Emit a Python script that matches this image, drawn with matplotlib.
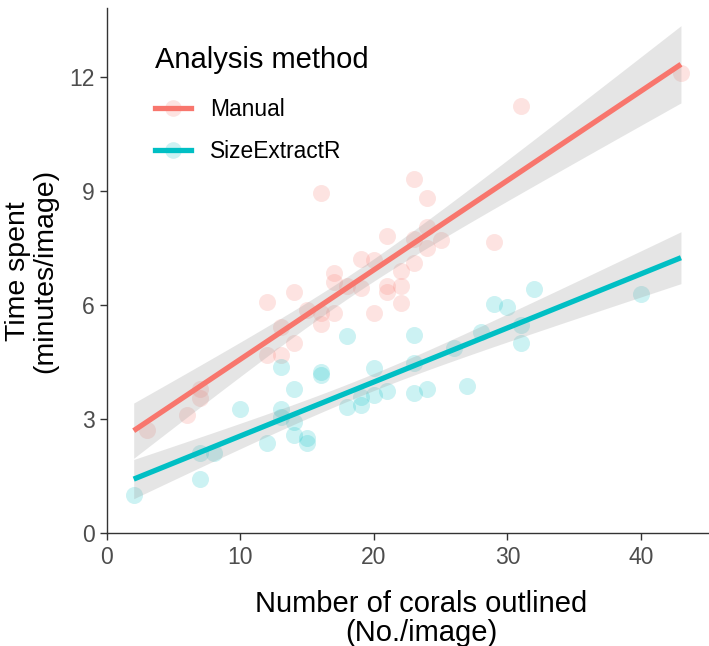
import numpy as np
import matplotlib
matplotlib.use("Agg")
import matplotlib.pyplot as plt
from matplotlib.lines import Line2D

plt.rcParams["font.family"] = ["Liberation Sans", "DejaVu Sans"]

# ---------------------------------------------------------------------------
# Data
# ---------------------------------------------------------------------------
manual_x = [3, 6, 7, 7, 12, 12, 13, 13, 14, 14, 15, 16, 16, 16, 17, 17, 17,
            18, 19, 19, 20, 20, 21, 21, 21, 22, 22, 22, 23, 23, 23, 24, 24,
            24, 25, 29, 31, 43]
manual_y = [2.7, 3.1, 3.8, 3.55, 6.08, 4.68, 5.42, 4.68, 6.34, 5.0, 5.87,
            8.95, 5.8, 5.5, 6.83, 6.6, 5.78, 6.5, 7.2, 6.45, 7.18, 5.8, 7.8,
            6.5, 6.35, 6.9, 6.5, 6.05, 9.3, 7.74, 7.1, 8.8, 8.05, 7.5, 7.7,
            7.65, 11.23, 12.1]

sizex_x = [2, 7, 7, 8, 10, 12, 13, 13, 13, 14, 14, 14, 15, 15, 16, 16, 18,
           18, 19, 19, 20, 20, 21, 23, 23, 23, 24, 26, 27, 28, 29, 30, 31,
           31, 32, 40]
sizex_y = [1.0, 1.42, 2.1, 2.1, 3.26, 2.37, 4.37, 3.26, 3.05, 3.78, 2.92,
           2.58, 2.5, 2.37, 4.24, 4.15, 5.18, 3.32, 3.37, 3.58, 4.33, 3.63,
           3.74, 5.2, 4.47, 3.68, 3.79, 4.87, 3.87, 5.3, 6.03, 5.95, 5.47,
           5.0, 6.42, 6.29]

fit_range = (2, 43)
groups = ["Manual", "SizeExtractR"]
colors = {"Manual": "#F8766D", "SizeExtractR": "#00BFC4"}
T_95 = 2.03


def lm_band(x, y, xs):
    """OLS fit with 95% confidence band (like geom_smooth(method='lm'))."""
    x = np.asarray(x, float)
    y = np.asarray(y, float)
    n = len(x)
    b1, b0 = np.polyfit(x, y, 1)
    resid = y - (b0 + b1 * x)
    s = np.sqrt(np.sum(resid ** 2) / (n - 2))
    sxx = np.sum((x - x.mean()) ** 2)
    fit = b0 + b1 * xs
    se = s * np.sqrt(1 / n + (xs - x.mean()) ** 2 / sxx)
    return fit, fit - T_95 * se, fit + T_95 * se


fig = plt.figure(figsize=(7.09, 6.46), dpi=100)
ax = fig.add_axes([107 / 709, 1 - 533 / 646, 1 - 107 / 709, 524.6 / 646])

xs = np.linspace(*fit_range, 200)
data = {"Manual": (manual_x, manual_y), "SizeExtractR": (sizex_x, sizex_y)}

handles = []
for g in groups:
    x, y = data[g]
    ax.scatter(x, y, s=150, color=colors[g], alpha=0.2, linewidths=0, zorder=2)
    fit, lo, hi = lm_band(x, y, xs)
    ax.fill_between(xs, lo, hi, color="#999999", alpha=0.25, linewidth=0, zorder=3)
    ax.plot(xs, fit, color=colors[g], lw=3.8, solid_capstyle="butt", zorder=4)
    dot = Line2D([], [], marker="o", markersize=12, linestyle="none",
                 markerfacecolor=colors[g], markeredgecolor="none", alpha=0.2)
    line = Line2D([], [], color=colors[g], lw=3.8)
    handles.append((dot, line))

ax.set_xlim(0, 45.1)
ax.set_ylim(0, 13.8)
ax.set_xticks([0, 10, 20, 30, 40])
ax.set_yticks([0, 3, 6, 9, 12])
for side in ["top", "right"]:
    ax.spines[side].set_visible(False)
for side in ["left", "bottom"]:
    ax.spines[side].set_color("#333333")
    ax.spines[side].set_linewidth(1.0)
ax.tick_params(axis="both", direction="out", length=5, width=1.0,
               color="#333333", labelcolor="#4d4d4d", labelsize=16.5, pad=4)

ax.set_xlabel("Number of corals outlined\n(No./image)", fontsize=21,
              linespacing=1.05)
ax.xaxis.set_label_coords(0.522, -0.108)
ax.set_ylabel("Time spent\n(minutes/image)", fontsize=20.5,
              labelpad=8, linespacing=1.05)

leg = ax.legend(handles, groups, title="Analysis method", loc="upper left",
                bbox_to_anchor=(155 / 709, 1 - 46 / 646),
                bbox_transform=fig.transFigure, frameon=False, fontsize=16.4,
                title_fontsize=21, handlelength=1.6, handletextpad=0.8,
                labelspacing=0.85, borderaxespad=0, borderpad=0)
leg._legend_box.align = "left"
leg._legend_box.sep = 17

fig.savefig("out.png", dpi=100)
